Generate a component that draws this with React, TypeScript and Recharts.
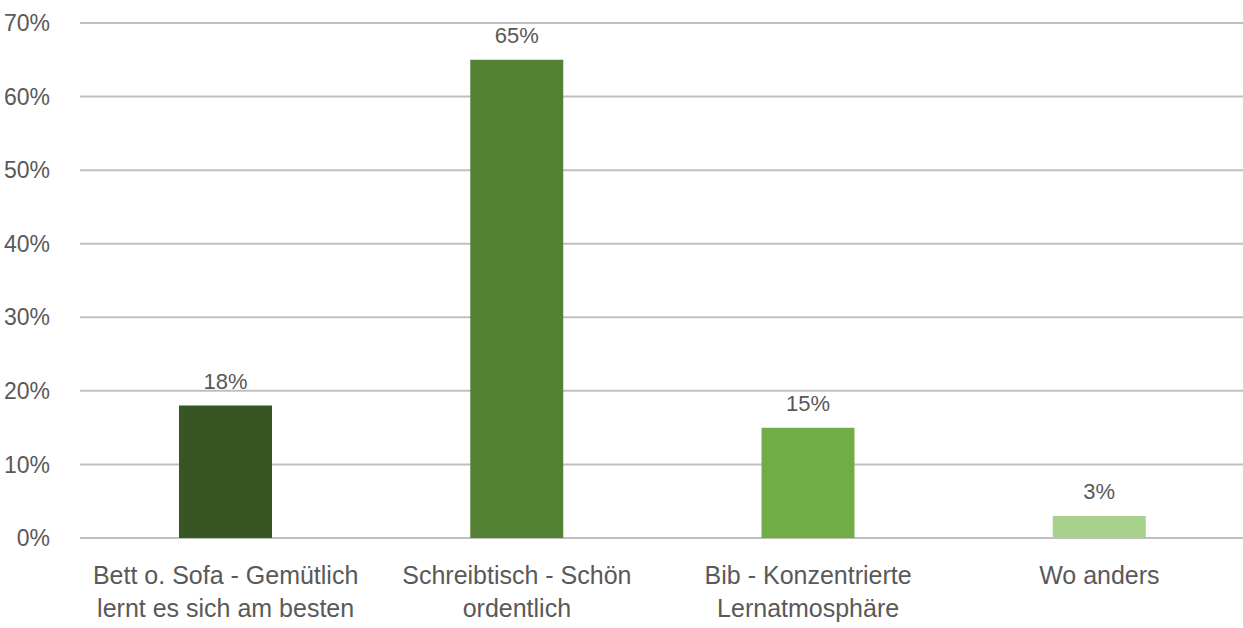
import { BarChart, Bar, XAxis, YAxis, CartesianGrid, Cell, LabelList } from "recharts";

const categories = [
  "Bett o. Sofa - Gemütlich\nlernt es sich am besten",
  "Schreibtisch - Schön\nordentlich",
  "Bib - Konzentrierte\nLernatmosphäre",
  "Wo anders",
];
const values = [18, 65, 15, 3];
const colors = ["#375623", "#548235", "#70AD47", "#A9D18E"];
const yTicks = [0, 10, 20, 30, 40, 50, 60, 70];

const data = categories.map((name, i) => ({ name, value: values[i] }));

const FONT = "Liberation Sans, Arial, sans-serif";

function CategoryTick(props: any) {
  const { x, y, payload } = props;
  const lines = String(payload.value).split("\n");
  return (
    <g transform={`translate(${x},${y})`}>
      {lines.map((line: string, i: number) => (
        <text
          key={i}
          x={0}
          y={i * 33}
          textAnchor="middle"
          dominantBaseline="hanging"
          fill="#595959"
          fontSize={25}
          fontFamily={FONT}
        >
          {line}
        </text>
      ))}
    </g>
  );
}

export default function App() {
  return (
    <div style={{ position: "absolute", left: 0, top: 0, width: 1243, height: 628, overflow: "hidden", background: "#fff" }}>
      <BarChart
        width={1245}
        height={628}
        data={data}
        margin={{ top: 23, right: 0, left: 0, bottom: 0 }}
        barCategoryGap={99}
      >
        <CartesianGrid vertical={false} stroke="#bfbfbf" strokeWidth={2} />
        <XAxis
          dataKey="name"
          interval={0}
          axisLine={false}
          tickLine={false}
          height={90}
          tick={<CategoryTick />}
          tickMargin={22}
        />
        <YAxis
          width={80}
          domain={[0, 70]}
          ticks={yTicks}
          axisLine={false}
          tickLine={false}
          tickMargin={24}
          tickFormatter={(v: number) => `${v}%`}
          tick={{ fill: "#595959", fontSize: 23, fontFamily: FONT }}
        />
        <Bar dataKey="value" isAnimationActive={false}>
          {data.map((d, i) => (
            <Cell key={d.name} fill={colors[i]} />
          ))}
          <LabelList
            dataKey="value"
            position="top"
            offset={17}
            formatter={(v: any) => `${v}%`}
            fill="#595959"
            fontSize={22}
            fontFamily={FONT}
          />
        </Bar>
      </BarChart>
    </div>
  );
}
